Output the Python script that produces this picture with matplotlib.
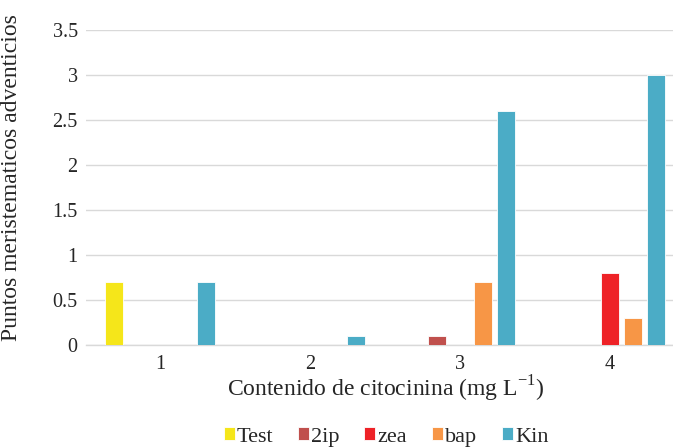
import matplotlib
matplotlib.use("Agg")
import matplotlib.pyplot as plt
import numpy as np

categories = ["1", "2", "3", "4"]
series = ["Test", "2ip", "zea", "bap", "Kin"]
values = {
    "Test": [0.7, 0.0, 0.0, 0.0],
    "2ip":  [0.0, 0.0, 0.1, 0.0],
    "zea":  [0.0, 0.0, 0.0, 0.8],
    "bap":  [0.0, 0.0, 0.7, 0.3],
    "Kin":  [0.7, 0.1, 2.6, 3.0],
}
colors = {"Test": "#F5E61A", "2ip": "#C0504D", "zea": "#EE2227",
          "bap": "#F79646", "Kin": "#4BACC6"}
yticks = [0, 0.5, 1, 1.5, 2, 2.5, 3, 3.5]
ytick_labels = ["0", "0.5", "1", "1.5", "2", "2.5", "3", "3.5"]

plt.rcParams['font.family'] = ['Liberation Serif', 'DejaVu Serif']
plt.rcParams['mathtext.fontset'] = 'custom'
plt.rcParams['mathtext.rm'] = 'Liberation Serif'

fig = plt.figure(figsize=(6.73, 4.48), dpi=100)
W, H = 673, 448
ax = fig.add_axes([86 / W, 1 - 345 / H, (673 - 86) / W, (345 - 30) / H])

x = np.arange(1, len(categories) + 1)
slot = 0.153
width = 0.12
for i, s in enumerate(series):
    off = (i - 2) * slot
    ax.bar(x + off, values[s], width=width, color=colors[s],
           edgecolor="white", linewidth=0.6, label=s, zorder=3)

ax.set_xlim(0.507, 4.42)
ax.set_ylim(0, 3.5)
ax.set_yticks(yticks)
ax.set_yticklabels(ytick_labels)
ax.set_xticks(x)
ax.set_xticklabels(categories)
ax.tick_params(axis="both", length=0, labelsize=14.5, colors="#262626")
ax.tick_params(axis="y", pad=6)
ax.tick_params(axis="x", pad=7)
ax.grid(axis="y", color="#D9D9D9", linewidth=1, zorder=0)
for sp in ["top", "right", "left"]:
    ax.spines[sp].set_visible(False)
ax.spines["bottom"].set_color("#D9D9D9")
ax.spines["bottom"].set_linewidth(1)

ax.set_ylabel("Puntos meristematicos adventicios", fontsize=17,
              color="#262626")
ax.yaxis.set_label_coords(-(86 - 22) / (673 - 86), (345 - 178) / 315)
ax.set_xlabel("Contenido de citocinina (mg L$^{-1}$)", fontsize=17,
              color="#262626")
ax.xaxis.set_label_coords((386 - 86) / (673 - 86), -(389 - 345) / 315)
ax.xaxis.label.set_va("center")

handles, labels = ax.get_legend_handles_labels()
leg = fig.legend(handles, labels, loc="center", bbox_to_anchor=(386 / W, 1 - 437 / H),
                 ncol=5, frameon=False, fontsize=16, handlelength=0.5,
                 handleheight=0.5, handletextpad=0.1, columnspacing=1.1)
for t in leg.get_texts():
    t.set_color("#262626")

fig.savefig("out.png", dpi=100)
